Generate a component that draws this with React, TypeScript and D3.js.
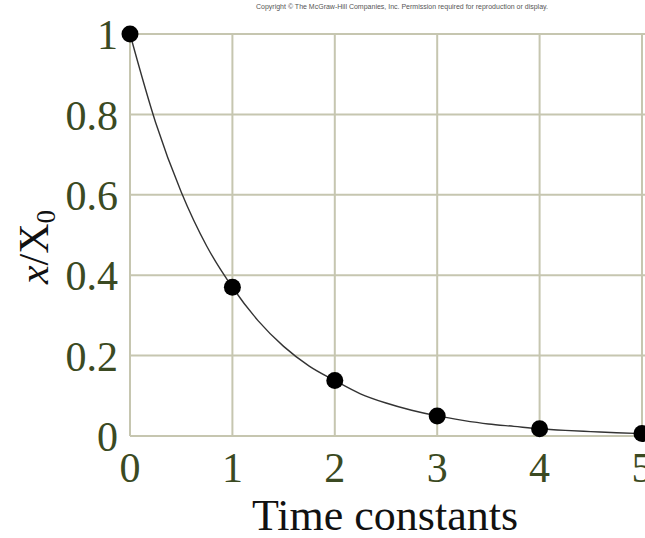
import { useEffect, useRef } from 'react'
import * as d3 from 'd3'

// marked points (one per time constant) and the smooth curve
const POINT_T = [0, 1, 2, 3, 4, 5]
const POINT_V = [1, 0.37, 0.138, 0.05, 0.018, 0.006]

const CURVE_T = [0, 0.25, 0.5, 0.75, 1, 1.25, 1.5, 1.75, 2, 2.25, 2.5, 2.75, 3, 3.25, 3.5, 3.75, 4, 4.25, 4.5, 4.75, 5]
const CURVE_V = [1, 0.78, 0.607, 0.472, 0.37, 0.287, 0.223, 0.174, 0.138, 0.105, 0.082, 0.064, 0.05, 0.039, 0.03, 0.024, 0.018, 0.014, 0.011, 0.008, 0.006]

const X_TICKS = [0, 1, 2, 3, 4, 5]
const Y_TICKS = [0, 0.2, 0.4, 0.6, 0.8, 1]

const W = 645, H = 538
const GRID = '#c6c6b0'
const TICK_COLOR = '#3b4a22'
const SERIF = 'Liberation Serif, Times New Roman, serif'

export default function App() {
  const ref = useRef<SVGSVGElement>(null)

  useEffect(() => {
    const svg = d3.select(ref.current)
    svg.selectAll('*').remove()

    const x = d3.scaleLinear().domain([0, 5]).range([130, 642])
    const y = d3.scaleLinear().domain([0, 1]).range([436, 34])

    svg.append('text')
      .attr('x', 402).attr('y', 9)
      .attr('text-anchor', 'middle')
      .attr('font-family', 'Liberation Sans, Arial, sans-serif')
      .attr('font-size', 7)
      .attr('fill', '#555')
      .text('Copyright © The McGraw-Hill Companies, Inc. Permission required for reproduction or display.')

    // grid
    const g = svg.append('g')
    g.selectAll('line.v').data(X_TICKS).join('line')
      .attr('x1', d => x(d)).attr('x2', d => x(d))
      .attr('y1', y(1)).attr('y2', y(0))
      .attr('stroke', GRID).attr('stroke-width', 2)
    g.selectAll('line.h').data(Y_TICKS).join('line')
      .attr('x1', x(0)).attr('x2', W)
      .attr('y1', d => y(d)).attr('y2', d => y(d))
      .attr('stroke', GRID).attr('stroke-width', 2)

    // tick labels
    svg.append('g').selectAll('text').data(Y_TICKS).join('text')
      .attr('x', 118).attr('y', d => y(d))
      .attr('dy', '0.36em')
      .attr('text-anchor', 'end')
      .attr('font-family', SERIF)
      .attr('font-size', 42)
      .attr('fill', TICK_COLOR)
      .text(d => d3.format('~g')(d))

    svg.append('g').selectAll('text').data(X_TICKS).join('text')
      .attr('x', d => x(d)).attr('y', 482)
      .attr('text-anchor', 'middle')
      .attr('font-family', SERIF)
      .attr('font-size', 42)
      .attr('fill', TICK_COLOR)
      .text(d => String(d))

    // axis titles
    svg.append('text')
      .attr('x', 385).attr('y', 530)
      .attr('text-anchor', 'middle')
      .attr('font-family', SERIF)
      .attr('font-size', 44)
      .attr('fill', '#111')
      .text('Time constants')

    const yl = svg.append('text')
      .attr('transform', 'translate(48,247) rotate(-90)')
      .attr('text-anchor', 'middle')
      .attr('font-family', SERIF)
      .attr('font-size', 42)
      .attr('fill', '#111')
    yl.append('tspan').attr('font-style', 'italic').text('x')
    yl.append('tspan').text('/X')
    yl.append('tspan').attr('font-size', 27).attr('dy', 7).text('0')

    // curve
    const pts = CURVE_T.map((t, i) => [t, CURVE_V[i]] as [number, number])
    const line = d3.line<[number, number]>()
      .x(d => x(d[0])).y(d => y(d[1]))
      .curve(d3.curveMonotoneX)
    svg.append('path')
      .datum(pts)
      .attr('d', line)
      .attr('fill', 'none')
      .attr('stroke', '#333')
      .attr('stroke-width', 1.4)

    svg.append('g').selectAll('circle').data(POINT_T).join('circle')
      .attr('cx', d => x(d)).attr('cy', (d, i) => y(POINT_V[i]))
      .attr('r', 8.5)
      .attr('fill', '#000')
  }, [])

  return (
    <svg
      ref={ref}
      width={W}
      height={H}
      style={{ position: 'absolute', left: 0, top: 0, display: 'block', background: '#fff' }}
    />
  )
}
